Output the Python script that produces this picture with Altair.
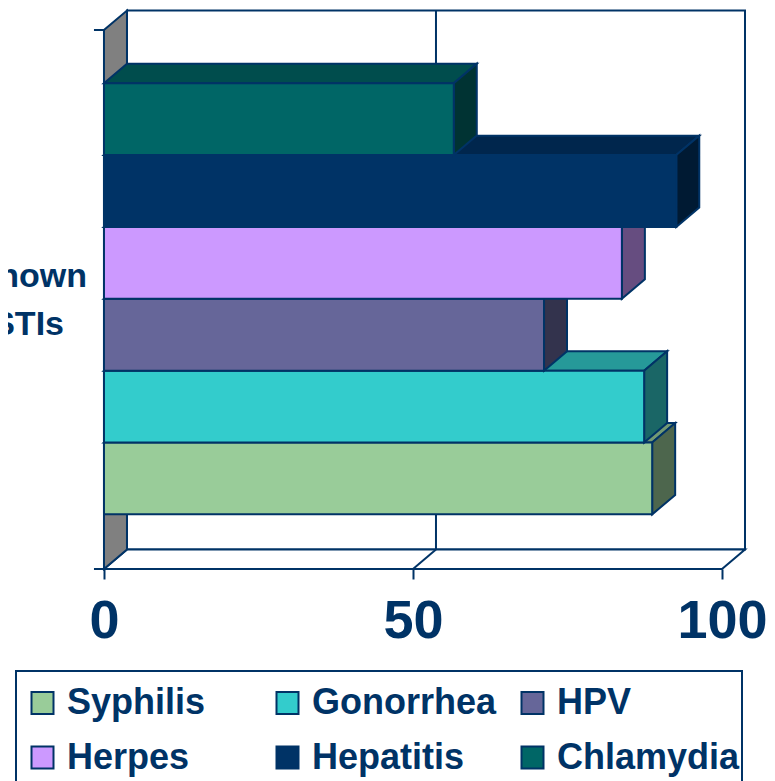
import altair as alt
import pandas as pd

categories = ["Syphilis", "Gonorrhea", "HPV", "Herpes", "Hepatitis", "Chlamydia"]
values = [88.7, 87.4, 71.2, 83.8, 92.6, 56.6]
front_colors = ["#99CC99", "#33CCCC", "#666699", "#CC99FF", "#003366", "#006666"]
top_colors = ["#739973", "#269999", "#4D4D73", "#9973BF", "#00264D", "#004D4D"]
side_colors = ["#4D664D", "#1A6666", "#33334D", "#664D80", "#001A33", "#003333"]
x_ticks = [0, 50, 100]

NAVY = "#003366"
FONT = "Liberation Sans"
DX, DY = 3.72, 0.27           # depth of the 3-D box, in axis units
Y0, Y1 = -0.76, 6.74          # extent of the category axis
XMAX = 100
SW = 2

x_scale = alt.Scale(domain=[-15.53, 107.28], nice=False, zero=False)
y_scale = alt.Scale(domain=[-3.71, 7.046], nice=False, zero=False)
x_axis = alt.Axis(values=x_ticks, domain=False, grid=False, offset=-212, tickSize=10, tickWidth=SW,
                  tickColor=NAVY, labelFontSize=54, labelFont=FONT, labelFontWeight="bold",
                  labelColor=NAVY, labelPadding=15, labelFlush=False, labelOverlap=False,
                  format="d", title=None, zindex=0)
X = alt.X("x:Q", scale=x_scale, axis=x_axis, title=None)
Y = alt.Y("y:Q", scale=y_scale, axis=None, title=None)


def vert_area(rows, fill):
    return alt.Chart(pd.DataFrame(rows)).mark_area(
        orient="vertical", fill=fill, stroke=NAVY, strokeWidth=SW, strokeJoin="miter", opacity=1
    ).encode(x=X, y=Y, y2="y2:Q")


def horiz_area(rows, fill):
    return alt.Chart(pd.DataFrame(rows)).mark_area(
        orient="horizontal", fill=fill, stroke=NAVY, strokeWidth=SW, strokeJoin="miter", opacity=1
    ).encode(x=X, x2="x2:Q", y=Y)


def segment(x0, y0, x1, y1, width=SW):
    return alt.Chart(pd.DataFrame({"x": [x0, x1], "y": [y0, y1]})).mark_line(
        color=NAVY, strokeWidth=width
    ).encode(x=X, y=Y)


back_wall = alt.Chart(pd.DataFrame({"x": [DX], "x2": [XMAX + DX], "y": [Y0 + DY], "y2": [Y1 + DY]})).mark_rect(
    fill="white", stroke=NAVY, strokeWidth=SW
).encode(x=X, x2="x2:Q", y=Y, y2="y2:Q")

floor = horiz_area({"x": [0, DX], "x2": [XMAX, XMAX + DX], "y": [Y0, Y0 + DY]}, "white")
left_wall = vert_area({"x": [0, DX], "y": [Y0, Y0 + DY], "y2": [Y1, Y1 + DY]}, "#808080")

legend_box = alt.Chart(pd.DataFrame({"a": [0]})).mark_rect(
    fill="white", stroke=NAVY, strokeWidth=SW
).encode(x=alt.value(8), x2=alt.value(734), y=alt.value(663), y2=alt.value(800))

layers = [
    back_wall,
    segment(50 + DX, Y0 + DY, 50 + DX, Y1 + DY),
    floor,
    segment(50, Y0, 50 + DX, Y0 + DY),
    left_wall,
    segment(-1.62, Y0, 0, Y0),
    segment(-1.62, Y1, 0, Y1),
    legend_box,
]

legend = alt.Legend(
    orient="none", legendX=16.5, legendY=677, direction="horizontal", columns=3, title=None,
    symbolType="square", symbolSize=484, symbolStrokeColor=NAVY, symbolStrokeWidth=SW, symbolOpacity=1,
    labelFont=FONT, labelFontSize=36, labelFontWeight="bold", labelColor=NAVY, labelLimit=400,
    labelOffset=6.5, columnPadding=18, rowPadding=18.5, gridAlign="all", padding=0,
)
color_scale = alt.Scale(domain=categories, range=front_colors)

for i, (name, v) in enumerate(zip(categories, values)):
    layers.append(horiz_area({"x": [0, DX], "x2": [v, v + DX], "y": [i + 1, i + 1 + DY]}, top_colors[i]))
    layers.append(vert_area({"x": [v, v + DX], "y": [i, i + DY], "y2": [i + 1, i + 1 + DY]}, side_colors[i]))
    layers.append(
        alt.Chart(pd.DataFrame({"x": [0], "x2": [v], "y": [i], "y2": [i + 1], "name": [name]}))
        .mark_rect(stroke=NAVY, strokeWidth=SW, opacity=1)
        .encode(x=X, x2="x2:Q", y=Y, y2="y2:Q",
                color=alt.Color("name:N", scale=color_scale, legend=legend))
    )

side_labels = alt.Chart(pd.DataFrame({"t": ["nown", "STIs"], "px": [79, 56], "py": [279, 327]})).mark_text(
    font=FONT, fontSize=34, fontWeight="bold", color=NAVY, align="right", baseline="alphabetic"
).encode(x=alt.X("px:Q", scale=None), y=alt.Y("py:Q", scale=None), text="t:N")
layers.append(side_labels)

chart = alt.layer(*layers).properties(
    width=759, height=773, padding=0,
    autosize=alt.AutoSizeParams(type="none"),
).configure_view(stroke=None)

chart.save("out.html", embed_options={"renderer": "svg", "actions": False})
